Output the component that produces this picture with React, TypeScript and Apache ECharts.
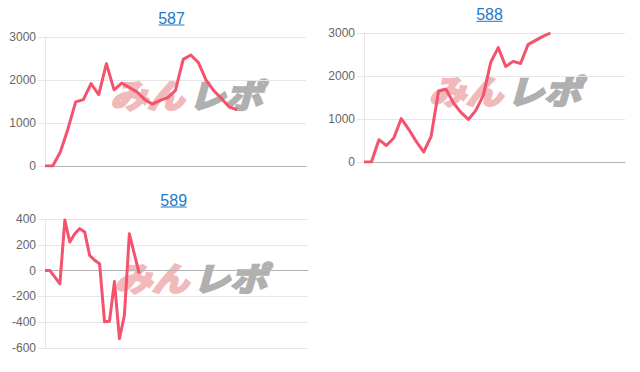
import React, { useEffect, useRef } from "react";
import * as echarts from "echarts";

const titles = ["587", "588", "589"];

const cats1 = Array.from({ length: 35 }, (_, i) => String(i + 1));
const cats2 = Array.from({ length: 36 }, (_, i) => String(i + 1));
const cats3 = Array.from({ length: 54 }, (_, i) => String(i + 1));

const values1 = [
  0, 0, 326, 868, 1490, 1543, 1915, 1660, 2380, 1770, 1930, 1822, 1721, 1543,
  1440, 1527, 1589, 1760, 2480, 2580, 2400, 1992, 1750, 1566, 1372, 1310,
];
const values2 = [
  0, 0, 519, 385, 558, 1010, 760, 480, 233, 597, 1650, 1690, 1372, 1155, 990,
  1200, 1550, 2320, 2660, 2223, 2340, 2290, 2729, 2829, 2922, 3000,
];
const values3 = [
  0, 0, -50, -103, 392, 222, 286, 325, 299, 118, 80, 54, -397, -392, -85, -528,
  -346, 285, 130, -23,
];

const yTicks12 = { min: 0, max: 3000, interval: 1000 };
const yTicks3 = { min: -600, max: 400, interval: 200 };

const LINE = "#f4526d";
const LINK = "#2477c9";
const FONT = "Liberation Sans";

export default function App() {
  const ref = useRef<HTMLDivElement>(null);
  useEffect(() => {
    const chart = echarts.init(ref.current!, null, { renderer: "svg" });
    const grids = [
      { left: 45, top: 37, width: 261, height: 129 },
      { left: 364, top: 33, width: 261, height: 129 },
      { left: 45, top: 219, width: 263, height: 129 },
    ];
    const cats = [cats1, cats2, cats3];
    const vals = [values1, values2, values3];
    const yr = [yTicks12, yTicks12, yTicks3];
    const titlePos = [
      { x: 171.5, y: 18.5, ul: 25, w: 26 },
      { x: 489.5, y: 14.7, ul: 21.3, w: 26 },
      { x: 173.7, y: 200.5, ul: 207, w: 26 },
    ];
    const wm = [
      { x: 187.5, y: 93 },
      { x: 506, y: 89 },
      { x: 192, y: 276 },
    ];
    const graphic: any[] = [];
    wm.forEach((p) => {
      const common = {
        fontFamily: "Noto Sans CJK JP",
        fontSize: 33,
        fontWeight: "bold",
        fontStyle: "italic",
        verticalAlign: "middle",
        lineWidth: 2.5,
      };
      graphic.push({
        type: "group",
        x: p.x,
        y: p.y,
        scaleX: 1.12,
        z: 0,
        silent: true,
        children: [
          {
            type: "text",
            x: -3,
            y: 0,
            style: {
              ...common,
              text: "みん",
              fill: "#f1b9b9",
              stroke: "#f1b9b9",
              align: "right",
            },
          },
          {
            type: "text",
            x: 1,
            y: 0,
            style: {
              ...common,
              text: "レポ",
              fill: "#b0b0b0",
              stroke: "#b0b0b0",
              align: "left",
            },
          },
        ],
      });
    });
    titlePos.forEach((p, i) => {
      graphic.push({
        type: "text",
        x: p.x,
        y: p.y,
        style: {
          text: titles[i],
          fill: LINK,
          fontSize: 16,
          fontFamily: FONT,
          align: "center",
          verticalAlign: "middle",
        },
      });
      graphic.push({
        type: "line",
        shape: { x1: p.x - p.w / 2, y1: p.ul, x2: p.x + p.w / 2, y2: p.ul },
        style: { stroke: LINK, lineWidth: 1 },
      });
    });

    chart.setOption({
      animation: false,
      grid: grids,
      xAxis: grids.map((_, i) => ({
        type: "category",
        gridIndex: i,
        data: cats[i],
        boundaryGap: false,
        axisLabel: { show: false },
        axisTick: { show: false },
        axisLine: { show: true, onZero: true, lineStyle: { color: "#b3b3b3", width: 1 } },
        splitLine: { show: false },
      })),
      yAxis: grids.map((_, i) => ({
        type: "value",
        gridIndex: i,
        min: yr[i].min,
        max: yr[i].max,
        interval: yr[i].interval,
        axisLine: { show: true, lineStyle: { color: "#e6e6e6" } },
        axisTick: { show: true, length: 7, lineStyle: { color: "#e6e6e6" } },
        axisLabel: {
          color: "#666",
          fontSize: 12,
          fontFamily: FONT,
          margin: 9,
          formatter: (v: number) => String(v),
        },
        splitLine: { show: true, lineStyle: { color: "#e6e6e6", width: 1 } },
      })),
      series: vals.map((v, i) => ({
        type: "line",
        xAxisIndex: i,
        yAxisIndex: i,
        data: v,
        symbol: "none",
        smooth: false,
        z: 5,
        lineStyle: { color: LINE, width: 3, join: "round" },
      })),
      graphic,
    });
    return () => chart.dispose();
  }, []);
  return (
    <div
      ref={ref}
      style={{ position: "fixed", left: 0, top: 0, width: 640, height: 372, background: "#fff" }}
    />
  );
}
